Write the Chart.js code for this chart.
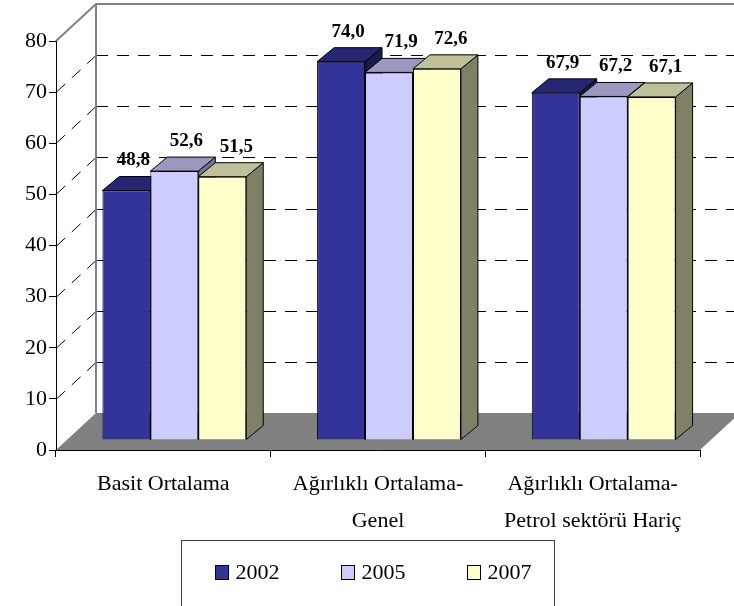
<!DOCTYPE html>
<html>
<head>
<meta charset="utf-8">
<script src="https://cdn.jsdelivr.net/npm/chart.js@4/dist/chart.umd.min.js"></script>
<style>
  html, body { margin: 0; padding: 0; background: #fff; }
  #wrap { width: 734px; height: 606px; }
</style>
</head>
<body>
<div id="wrap"><canvas id="chart"></canvas></div>
<script>
const categories = ['Basit Ortalama', ['Ağırlıklı Ortalama-', 'Genel'], ['Ağırlıklı Ortalama-', 'Petrol sektörü Hariç']];
const years = ['2002', '2005', '2007'];
const values2002 = [48.8, 74.0, 67.9];
const values2005 = [52.6, 71.9, 67.2];
const values2007 = [51.5, 72.6, 67.1];
const yMin = 0, yMax = 80, yStep = 10;

const FONT = '"Liberation Serif", "Times New Roman", serif';
// 3d offsets (back wall, bar plane, bar depth)
const WALL = { dx: 40, dy: -37 };
const SHIFT = { dx: 11, dy: -10 };
const DEPTH = { dx: 17, dy: -14 };
const labelShift = [7, 12, 14];

function fmt(v) {
  return v.toFixed(1).replace('.', ',');
}

function poly(ctx, pts, fill, stroke) {
  ctx.beginPath();
  ctx.moveTo(pts[0][0], pts[0][1]);
  for (let i = 1; i < pts.length; i++) ctx.lineTo(pts[i][0], pts[i][1]);
  ctx.closePath();
  if (fill) { ctx.fillStyle = fill; ctx.fill(); }
  if (stroke) { ctx.strokeStyle = stroke; ctx.lineWidth = 1; ctx.stroke(); }
}

const walls = {
  id: 'walls',
  beforeDraw(chart) {
    const { ctx, chartArea: a } = chart;
    const y = chart.scales.y;
    const y0 = y.getPixelForValue(yMin);
    const yt = y.getPixelForValue(yMax);
    ctx.save();
    // floor
    poly(ctx, [[a.left, y0], [a.right, y0], [a.right + WALL.dx, y0 + WALL.dy], [a.left + WALL.dx, y0 + WALL.dy]], '#808080');
    // dashed grid on the side and back walls
    ctx.setLineDash([12, 9]);
    ctx.strokeStyle = '#000';
    ctx.lineWidth = 1;
    y.ticks.forEach(t => {
      if (t.value === yMin || t.value === yMax) return;
      const py = Math.round(y.getPixelForValue(t.value)) + 0.5;
      ctx.beginPath();
      ctx.moveTo(a.left + WALL.dx, py + WALL.dy);
      ctx.lineTo(chart.width, py + WALL.dy);
      ctx.stroke();
      ctx.beginPath();
      ctx.moveTo(a.left + WALL.dx, py + WALL.dy);
      ctx.lineTo(a.left, py);
      ctx.stroke();
    });
    ctx.setLineDash([]);
    // wall edges
    ctx.strokeStyle = '#808080';
    ctx.lineWidth = 2;
    ctx.beginPath();
    ctx.moveTo(a.left, yt);
    ctx.lineTo(a.left + WALL.dx, yt + WALL.dy);
    ctx.lineTo(chart.width, yt + WALL.dy);
    ctx.moveTo(a.left + WALL.dx, yt + WALL.dy);
    ctx.lineTo(a.left + WALL.dx, y0 + WALL.dy);
    ctx.stroke();
    ctx.restore();
  }
};

const bars3d = {
  id: 'bars3d',
  beforeDatasetsDraw(chart) {
    const ctx = chart.ctx;
    ctx.save();
    ctx.translate(SHIFT.dx, SHIFT.dy);
    const items = [];
    chart.data.datasets.forEach((ds, i) => {
      chart.getDatasetMeta(i).data.forEach(bar => items.push({ bar, ds }));
    });
    items.sort((p, q) => p.bar.x - q.bar.x);
    items.forEach(({ bar, ds }) => {
      const { x, y, base, width } = bar.getProps(['x', 'y', 'base', 'width'], true);
      const l = x - width / 2, r = x + width / 2;
      poly(ctx, [[r, y], [r + DEPTH.dx, y + DEPTH.dy], [r + DEPTH.dx, base + DEPTH.dy], [r, base]], ds.sideColor, '#000');
      poly(ctx, [[l, y], [r, y], [r + DEPTH.dx, y + DEPTH.dy], [l + DEPTH.dx, y + DEPTH.dy]], ds.topColor, '#000');
    });
  },
  afterDatasetsDraw(chart) {
    const ctx = chart.ctx;
    ctx.font = 'bold 19px ' + FONT;
    ctx.fillStyle = '#000';
    ctx.textAlign = 'center';
    ctx.textBaseline = 'middle';
    chart.data.datasets.forEach((ds, i) => {
      chart.getDatasetMeta(i).data.forEach((bar, j) => {
        ctx.fillText(fmt(ds.data[j]), bar.x + labelShift[i], bar.y - 30);
      });
    });
    ctx.restore();
  }
};

// legend frame with the three series keys
const legendBox = {
  id: 'legendBox',
  afterDraw(chart) {
    const ctx = chart.ctx;
    const left = Math.round(chart.width / 2 - 186) + 0.5;
    const top = 540.5;
    const midY = 573;
    ctx.save();
    ctx.strokeStyle = '#404040';
    ctx.lineWidth = 1;
    ctx.strokeRect(left, top, 373, 120);
    ctx.font = '22px ' + FONT;
    ctx.textAlign = 'left';
    ctx.textBaseline = 'middle';
    chart.data.datasets.forEach((ds, i) => {
      const x = Math.round(left + 33 + i * 126) + 0.5;
      ctx.fillStyle = ds.backgroundColor;
      ctx.fillRect(x, midY - 7.5, 13, 14);
      ctx.strokeStyle = '#000';
      ctx.strokeRect(x, midY - 7.5, 13, 14);
      ctx.fillStyle = '#000';
      ctx.fillText(ds.label, x + 20, midY);
    });
    ctx.restore();
  }
};

new Chart(document.getElementById('chart'), {
  type: 'bar',
  data: {
    labels: categories,
    datasets: [
      { label: years[0], data: values2002, backgroundColor: '#333399', topColor: '#262673', sideColor: '#1a1a4d', borderColor: '#000', borderWidth: 1 },
      { label: years[1], data: values2005, backgroundColor: '#ccccff', topColor: '#9999bf', sideColor: '#737399', borderColor: '#000', borderWidth: 1 },
      { label: years[2], data: values2007, backgroundColor: '#ffffcc', topColor: '#bfbf99', sideColor: '#808066', borderColor: '#000', borderWidth: 1 }
    ]
  },
  options: {
    responsive: true,
    maintainAspectRatio: false,
    animation: false,
    categoryPercentage: 0.67,
    barPercentage: 1,
    layout: { padding: { left: 23, right: 34, top: 41, bottom: 57 } },
    plugins: {
      tooltip: { enabled: false },
      legend: { display: false }
    },
    scales: {
      x: {
        border: { color: '#000' },
        grid: { drawOnChartArea: false, color: '#000', tickLength: 7, offset: true },
        ticks: {
          color: '#000',
          padding: 9,
          maxRotation: 0,
          autoSkip: false,
          font: { family: FONT, size: 22, lineHeight: 37 / 22 }
        }
      },
      y: {
        min: yMin,
        max: yMax,
        border: { color: '#000' },
        grid: { drawOnChartArea: false, color: '#000', tickLength: 7 },
        ticks: {
          stepSize: yStep,
          color: '#000',
          padding: 2,
          font: { family: FONT, size: 22 }
        }
      }
    }
  },
  plugins: [walls, bars3d, legendBox]
});
</script>
</body>
</html>
